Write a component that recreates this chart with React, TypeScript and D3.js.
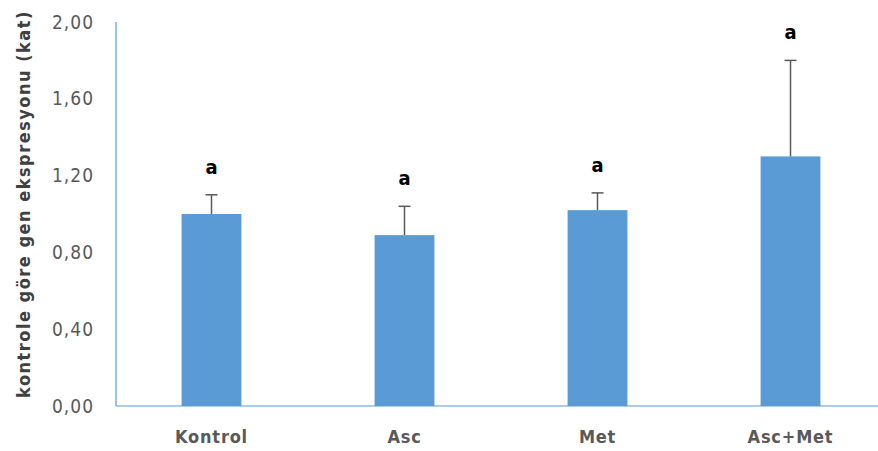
import React from "react";
import * as d3 from "d3";

const categories = ["Kontrol", "Asc", "Met", "Asc+Met"];
const means = [1.0, 0.89, 1.02, 1.3];
const errTops = [1.1, 1.04, 1.11, 1.8];
const letters = ["a", "a", "a", "a"];
const yTicks = [0, 0.4, 0.8, 1.2, 1.6, 2.0];
const yTitle = "kontrole göre gen ekspresyonu  (kat)";

const W = 878;
const H = 451;

export default function App() {
  const x = d3.scaleBand<string>().domain(categories).range([115, 887]).paddingInner(0.69).paddingOuter(0.345);
  const y = d3.scaleLinear().domain([0, 2]).range([406, 22]);
  const fmt = (v: number) => v.toFixed(2).replace(".", ",");
  const font = "'Liberation Sans Narrow', 'DejaVu Sans Condensed', 'Open Sans', sans-serif";
  return (
    <svg width={W} height={H} style={{ position: "absolute", left: 0, top: 0, background: "#fff" }}>
      <rect x={0} y={0} width={W} height={H} fill="#fff" />
      {categories.map((c, i) => {
        const bx = x(c)!;
        const cx = bx + x.bandwidth() / 2;
        return (
          <g key={c}>
            <rect x={bx} y={y(means[i])} width={x.bandwidth()} height={y(0) - y(means[i])} fill="#5B9BD5" />
            <line x1={cx} x2={cx} y1={y(means[i])} y2={y(errTops[i])} stroke="#595959" strokeWidth={1.5} />
            <line x1={cx - 6} x2={cx + 6} y1={y(errTops[i])} y2={y(errTops[i])} stroke="#595959" strokeWidth={1.5} />
            <text x={cx} y={y(errTops[i]) - 21} textAnchor="middle" fontFamily={font} fontWeight="bold" fontSize={20} fill="#000">
              {letters[i]}
            </text>
            <text x={cx} y={443} textAnchor="middle" fontFamily={font} fontWeight="bold" fontSize={18} letterSpacing={0.8} fill="#595959">
              {c}
            </text>
          </g>
        );
      })}
      <line x1={116} x2={116} y1={y(2)} y2={y(0)} stroke="#5B9BD5" strokeWidth={1.2} />
      <line x1={116} x2={887} y1={y(0)} y2={y(0)} stroke="#5B9BD5" strokeWidth={1.2} />
      {yTicks.map((t) => (
        <text key={t} x={94} y={y(t) + 6.5} textAnchor="end" fontFamily={font} fontSize={19} letterSpacing={1} fill="#595959">
          {fmt(t)}
        </text>
      ))}
      <text
        transform={`translate(30, ${204}) rotate(-90)`}
        textAnchor="middle"
        fontFamily={font}
        fontWeight="bold"
        fontSize={18}
        letterSpacing={1.5}
        fill="#404040"
      >
        {yTitle}
      </text>
    </svg>
  );
}
